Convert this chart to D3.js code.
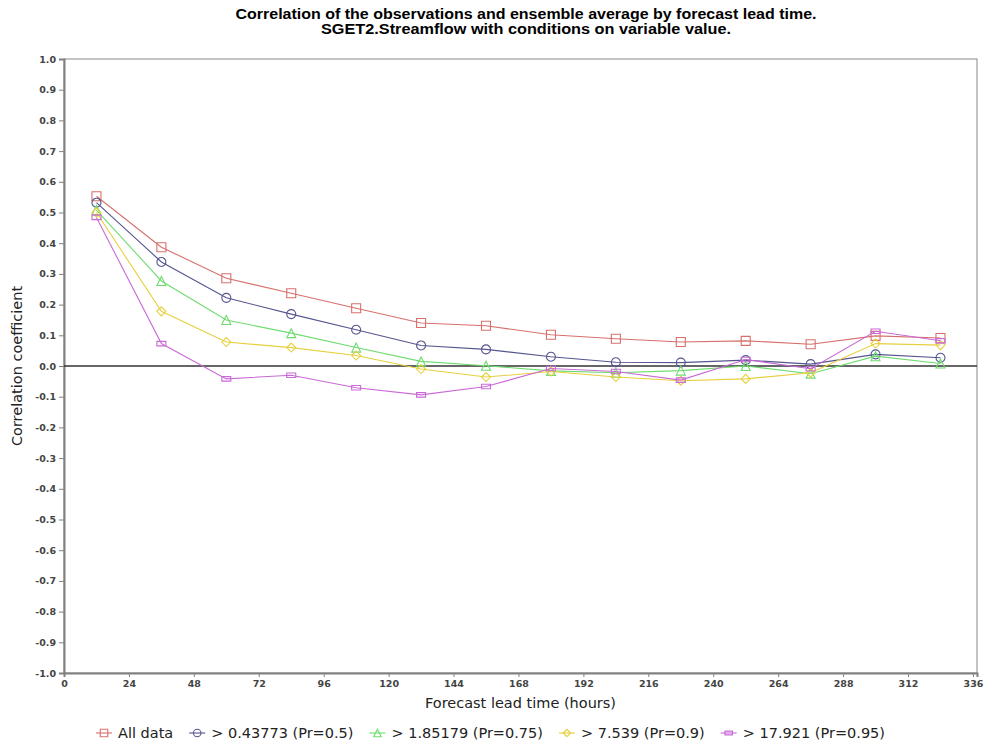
<!DOCTYPE html>
<html>
<head>
<meta charset="utf-8">
<script src="https://cdn.jsdelivr.net/npm/d3@7"></script>
<style>
  html, body { margin: 0; padding: 0; background: #fff; }
  svg { display: block; }
</style>
</head>
<body>
<script>
// Forecast lead times (hours) at which the correlation was evaluated
const leadTimes = [12, 36, 60, 84, 108, 132, 156, 180, 204, 228, 252, 276, 300, 324];

// Correlation of observations and ensemble mean, one array per condition
const allData   = [0.553, 0.387, 0.286, 0.237, 0.188, 0.140, 0.131, 0.102, 0.089, 0.078, 0.082, 0.071, 0.098, 0.091];
const gtPr050   = [0.532, 0.339, 0.222, 0.169, 0.118, 0.067, 0.054, 0.030, 0.012, 0.011, 0.019, 0.006, 0.038, 0.027];
const gtPr075   = [0.508, 0.277, 0.150, 0.107, 0.060, 0.015, 0.001, -0.016, -0.022, -0.015, 0.000, -0.025, 0.032, 0.008];
const gtPr090   = [0.500, 0.178, 0.078, 0.060, 0.034, -0.010, -0.036, -0.018, -0.036, -0.048, -0.042, -0.022, 0.073, 0.068];
const gtPr095   = [0.484, 0.073, -0.042, -0.030, -0.071, -0.094, -0.067, -0.008, -0.018, -0.046, 0.021, -0.009, 0.113, 0.082];

const seriesNames = ["All data", "> 0.43773 (Pr=0.5)", "> 1.85179 (Pr=0.75)", "> 7.539 (Pr=0.9)", "> 17.921 (Pr=0.95)"];
const seriesValues = [allData, gtPr050, gtPr075, gtPr090, gtPr095];

const xTicks = [0, 24, 48, 72, 96, 120, 144, 168, 192, 216, 240, 264, 288, 312, 336];
const yTicks = [1.0, 0.9, 0.8, 0.7, 0.6, 0.5, 0.4, 0.3, 0.2, 0.1, 0.0, -0.1, -0.2, -0.3, -0.4, -0.5, -0.6, -0.7, -0.8, -0.9, -1.0];

const titleLines = [
  "Correlation of the observations and ensemble average by forecast lead time.",
  "SGET2.Streamflow with conditions on variable value."
];

const colors = ["#d7706c", "#55558f", "#6fdc6f", "#e6d03e", "#c96ad6"];
const shapes = ["square", "circle", "triangle", "diamond", "hrect"];

const W = 987, H = 747;
const plot = { left: 64, right: 977, top: 59, bottom: 673 };

const svg = d3.select("body").append("svg")
  .attr("width", W).attr("height", H)
  .style("font-family", "'DejaVu Sans', sans-serif");

const x = d3.scaleLinear().domain([0, 337.5]).range([plot.left, plot.right]);
const y = d3.scaleLinear().domain([-1, 1]).range([plot.bottom, plot.top]);

// Title
const titleWidths = [581, 410];
titleLines.forEach((t, i) => {
  svg.append("text")
    .attr("x", 526).attr("y", 19 + i * 15)
    .attr("text-anchor", "middle")
    .attr("font-family", "'Liberation Sans Narrow', 'Liberation Sans', sans-serif")
    .attr("font-weight", "bold")
    .attr("font-size", 14)
    .attr("textLength", titleWidths[i])
    .attr("lengthAdjust", "spacingAndGlyphs")
    .attr("fill", "#000")
    .text(t);
});

// Plot frame
svg.append("rect")
  .attr("x", plot.left).attr("y", plot.top)
  .attr("width", plot.right - plot.left).attr("height", plot.bottom - plot.top)
  .attr("fill", "#fff").attr("stroke", "#8a8a8a").attr("stroke-width", 1);

// Axes
const yAxis = d3.axisLeft(y).tickValues(yTicks).tickFormat(d3.format(".1f")).tickSize(5).tickPadding(3);
const xAxis = d3.axisBottom(x).tickValues(xTicks).tickFormat(d3.format("d")).tickSize(4).tickPadding(3);

const gy = svg.append("g").attr("transform", `translate(${plot.left},0)`).call(yAxis);
const gx = svg.append("g").attr("transform", `translate(0,${plot.bottom})`).call(xAxis);
[gx, gy].forEach(g => {
  g.select(".domain").attr("stroke", "#808080").attr("stroke-width", 2);
  g.selectAll(".tick line").attr("stroke", "#808080");
  g.selectAll(".tick text")
    .attr("font-family", "'DejaVu Sans', sans-serif")
    .attr("font-size", 9.5)
    .attr("font-weight", "bold")
    .attr("fill", "#444");
});
gy.selectAll(".tick text").text(d => d3.format(".1f")(d).replace("−", "-"));

// Zero reference line
svg.append("line")
  .attr("x1", plot.left).attr("x2", plot.right)
  .attr("y1", y(0)).attr("y2", y(0))
  .attr("stroke", "#333").attr("stroke-width", 1.6);

// Axis labels
svg.append("text")
  .attr("transform", `translate(22,${(plot.top + plot.bottom) / 2}) rotate(-90)`)
  .attr("text-anchor", "middle")
  .attr("font-size", 14.5)
  .attr("fill", "#222")
  .text("Correlation coefficient");

svg.append("text")
  .attr("x", (plot.left + plot.right) / 2).attr("y", 708)
  .attr("text-anchor", "middle")
  .attr("font-size", 14.5)
  .attr("fill", "#222")
  .text("Forecast lead time (hours)");

// Marker shapes
function markerPath(kind, s) {
  const h = s / 2;
  switch (kind) {
    case "square":   return `M${-h},${-h}H${h}V${h}H${-h}Z`;
    case "circle":   return d3.symbol(d3.symbolCircle, Math.PI * h * h)();
    case "triangle": return `M0,${-h}L${h},${h}L${-h},${h}Z`;
    case "diamond":  return `M0,${-h}L${h},0L0,${h}L${-h},0Z`;
    case "hrect":    return `M${-h},${-h / 2}H${h}V${h / 2}H${-h}Z`;
  }
}

const line = d3.line().x(d => x(d[0])).y(d => y(d[1]));

seriesValues.forEach((vals, si) => {
  const pts = leadTimes.map((t, i) => [t, vals[i]]);
  const g = svg.append("g");
  g.append("path")
    .attr("d", line(pts))
    .attr("fill", "none")
    .attr("stroke", colors[si])
    .attr("stroke-width", 1.1);
  g.selectAll("path.m").data(pts).join("path")
    .attr("class", "m")
    .attr("transform", d => `translate(${x(d[0])},${y(d[1])})`)
    .attr("d", markerPath(shapes[si], 9))
    .attr("fill", "none")
    .attr("stroke", colors[si])
    .attr("stroke-width", 1.1);
});

// Legend: entries flow left to right across the row below the axis title
const legendLeft = 96, legendRight = 885, iconW = 16, iconGap = 6;
const legend = svg.append("g").attr("transform", "translate(0,733)");
const entries = seriesNames.map((name, si) => {
  const it = legend.append("g");
  it.append("line").attr("x1", 0).attr("x2", iconW).attr("y1", 0).attr("y2", 0)
    .attr("stroke", colors[si]).attr("stroke-width", 1.1);
  it.append("path").attr("transform", `translate(${iconW / 2},0)`)
    .attr("d", markerPath(shapes[si], 7.5))
    .attr("fill", "none").attr("stroke", colors[si]).attr("stroke-width", 1.1);
  const tx = it.append("text").attr("x", iconW + iconGap).attr("y", 5)
    .attr("font-size", 14.5).attr("fill", "#222").text(name);
  return { it, w: iconW + iconGap + tx.node().getComputedTextLength() };
});
const used = d3.sum(entries, e => e.w);
const between = (legendRight - legendLeft - used) / (entries.length - 1);
let cursor = legendLeft;
entries.forEach(e => {
  e.it.attr("transform", `translate(${cursor},0)`);
  cursor += e.w + between;
});
</script>
</body>
</html>
